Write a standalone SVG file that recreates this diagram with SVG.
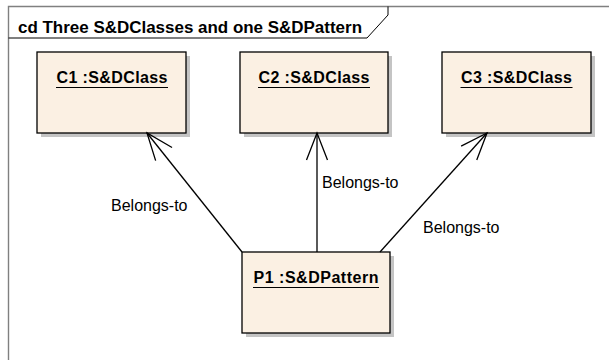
<svg xmlns="http://www.w3.org/2000/svg" width="609" height="360" viewBox="0 0 609 360">
<style>
.frame{fill:none;stroke:#808080;stroke-width:1.4}
.tab{fill:none;stroke:#000;stroke-width:1}
.title{font-family:"Liberation Sans",Arial,sans-serif;font-weight:bold;font-size:16px;fill:#000}
.box{fill:#FBF0E3;stroke:#000;stroke-width:1.3}
.shadow{fill:#C4C4C4}
.name{font-family:"Liberation Sans",Arial,sans-serif;font-weight:bold;font-size:16px;fill:#000}
.ul{stroke:#000;stroke-width:1.2}
.conn{fill:none;stroke:#000;stroke-width:1.3}
.lbl{font-family:"Liberation Sans",Arial,sans-serif;font-size:16px;fill:#000}
</style>
<defs>
<marker id="open" markerUnits="userSpaceOnUse" markerWidth="40" markerHeight="30" viewBox="-30 -15 34 30" refX="0" refY="0" orient="auto">
<path d="M-27,-10.5 L0,0 L-27,10.5" fill="none" stroke="#000" stroke-width="1.3"/>
</marker>
</defs>
<rect width="609" height="360" fill="#fff"/>
<g id="frame">
<path class="frame" d="M8.5,362 L8.5,6.5 L612,6.5"/>
<path class="tab" d="M8.5,38 L367,38 L388,15 L388,6.5"/>
<text class="title" x="18" y="33" textLength="344" lengthAdjust="spacingAndGlyphs">cd Three S&amp;DClasses and one S&amp;DPattern</text>
</g>
<g id="C1">
<rect class="shadow" x="41" y="56" width="149" height="81"/>
<rect class="box" x="37" y="52" width="149" height="81"/>
<text class="name" x="56.5" y="83" textLength="111" lengthAdjust="spacing">C1 :S&amp;DClass</text>
<line class="ul" x1="56" y1="87.5" x2="168" y2="87.5"/>
</g>
<g id="C2">
<rect class="shadow" x="244" y="56" width="148" height="81"/>
<rect class="box" x="240" y="52" width="148" height="81"/>
<text class="name" x="258.5" y="83" textLength="111" lengthAdjust="spacing">C2 :S&amp;DClass</text>
<line class="ul" x1="258" y1="87.5" x2="370" y2="87.5"/>
</g>
<g id="C3">
<rect class="shadow" x="446" y="56" width="149" height="81"/>
<rect class="box" x="442" y="52" width="149" height="81"/>
<text class="name" x="461" y="83" textLength="111" lengthAdjust="spacing">C3 :S&amp;DClass</text>
<line class="ul" x1="460.5" y1="87.5" x2="572.5" y2="87.5"/>
</g>
<g id="P1">
<rect class="shadow" x="246" y="256" width="148" height="81"/>
<rect class="box" x="242" y="252" width="148" height="81"/>
<text class="name" x="253.5" y="283" textLength="125" lengthAdjust="spacing">P1 :S&amp;DPattern</text>
<line class="ul" x1="253" y1="287.5" x2="379" y2="287.5"/>
</g>
<g id="connectors">
<line class="conn" x1="242" y1="252" x2="147" y2="133" marker-end="url(#open)"/>
<line class="conn" x1="317" y1="252" x2="317" y2="133" marker-end="url(#open)"/>
<line class="conn" x1="380" y1="252" x2="487" y2="133" marker-end="url(#open)"/>
<text class="lbl" x="111" y="211">Belongs-to</text>
<text class="lbl" x="322" y="188">Belongs-to</text>
<text class="lbl" x="423" y="233">Belongs-to</text>
</g>
</svg>
